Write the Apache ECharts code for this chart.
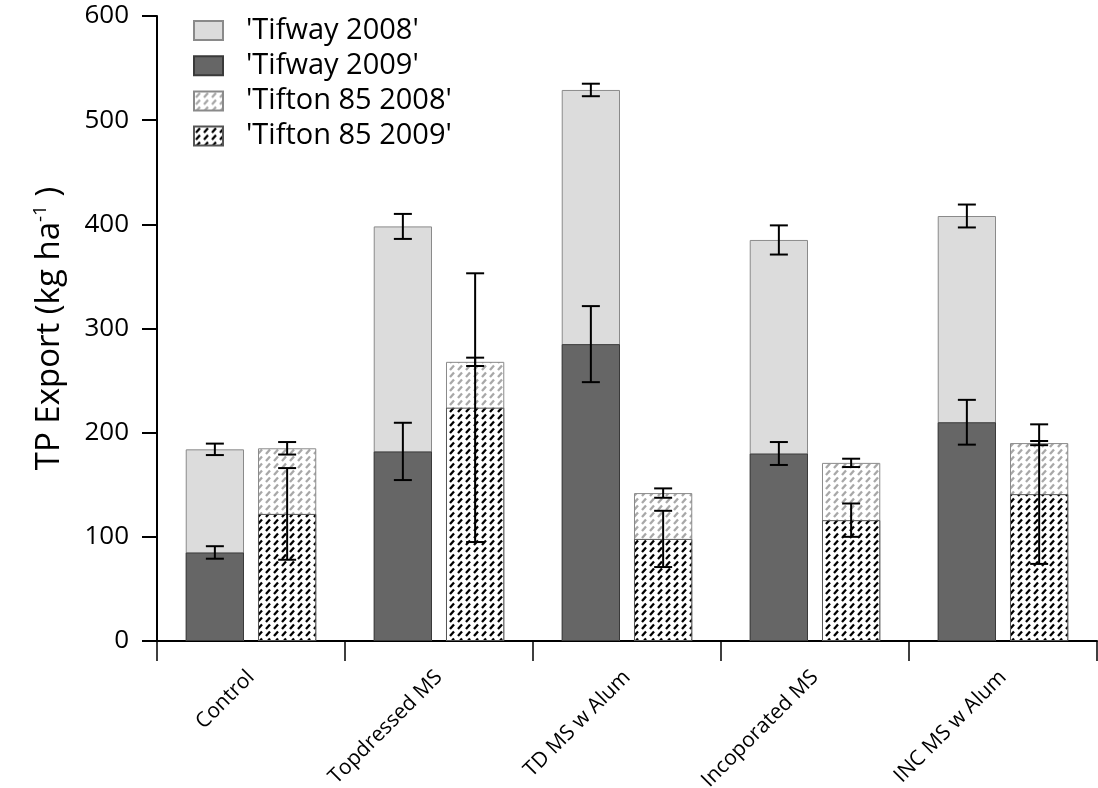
<!DOCTYPE html>
<html>
<head>
<meta charset="utf-8">
<script src="https://cdn.jsdelivr.net/npm/echarts@6/dist/echarts.min.js"></script>
<style>
  html, body { margin: 0; padding: 0; background: #fff; }
  #chart { width: 1098px; height: 788px; }
</style>
</head>
<body>
<div id="chart"></div>
<script>
// Treatments along the x axis
const categories = ['Control', 'Topdressed MS', 'TD MS w Alum', 'Incoporated MS', 'INC MS w Alum'];

// Bar heights (kg ha-1) and their error half-widths
const tifway2008 = [184, 398, 529, 385, 408];
const tifway2008Err = [5.5, 12, 6, 14, 11];
const tifway2009 = [85, 182, 285, 180, 210];
const tifway2009Err = [6, 27.5, 36.5, 11, 21.5];
const tifton2008 = [185, 268, 142, 171, 190];
const tifton2008Err = [6, 4, 4.5, 4, 2];
const tifton2009 = [122, 224, 98, 116, 141];
const tifton2009Err = [44, 129, 27, 16, 67];

// Y axis range and step
const yMin = 0, yMax = 600, yStep = 100;

const BAR_W = 0.31;   // bar width as fraction of the category band
const BAR_GAP = 0.24; // gap between the two bars, as fraction of bar width

// Diagonal-dash fill used for the Tifton 85 bars
function dashPattern(color) {
  const c = document.createElement('canvas');
  c.width = 8; c.height = 7;
  const ctx = c.getContext('2d');
  ctx.fillStyle = '#fff';
  ctx.fillRect(0, 0, 8, 7);
  ctx.strokeStyle = color;
  ctx.lineWidth = 2.3;
  ctx.lineCap = 'butt';
  ctx.beginPath();
  ctx.moveTo(2, 6);
  ctx.lineTo(6, 1.5);
  ctx.stroke();
  return { image: c, repeat: 'repeat' };
}

const names = ["'Tifway 2008'", "'Tifway 2009'", "'Tifton 85 2008'", "'Tifton 85 2009'"];

// Error bar items: [category index, value, half-width, side (-1 Tifway, +1 Tifton)]
const errItems = [];
categories.forEach((_, i) => {
  errItems.push([i, tifway2008[i], tifway2008Err[i], -1]);
  errItems.push([i, tifway2009[i], tifway2009Err[i], -1]);
  errItems.push([i, tifton2008[i], tifton2008Err[i], 1]);
  errItems.push([i, tifton2009[i], tifton2009Err[i], 1]);
});

const font = 'Open Sans';
const chart = echarts.init(document.getElementById('chart'), null, { renderer: 'canvas' });

const barCommon = {
  type: 'bar',
  barWidth: (BAR_W * 100) + '%',
  barGap: (BAR_GAP * 100) + '%',
  emphasis: { disabled: true }
};

chart.setOption({
  backgroundColor: '#fff',
  animation: false,
  grid: { left: 157, right: 1, top: 16, bottom: 147, containLabel: false, outerBoundsMode: 'none' },
  legend: {
    data: names,
    icon: 'rect',
    orient: 'vertical',
    left: 188,
    top: 11,
    itemWidth: 29,
    itemHeight: 19,
    itemGap: 6.2,
    textStyle: { fontFamily: font, fontSize: 29, color: '#000', padding: [0, 0, 0, 18] }
  },
  xAxis: [
    {
      type: 'category',
      data: categories,
      axisLine: { lineStyle: { color: '#000', width: 2 } },
      axisTick: { show: true, length: 20, lineStyle: { color: '#000', width: 1.5 } },
      axisLabel: { rotate: 45, margin: 33, fontFamily: font, fontSize: 21, color: '#000' }
    },
    { type: 'category', data: categories, show: false }
  ],
  yAxis: {
    type: 'value',
    min: yMin, max: yMax, interval: yStep,
    name: 'TP Export (kg ha{sup|-1} )',
    nameLocation: 'middle',
    nameRotate: 90,
    nameGap: 88,
    nameTextStyle: {
      fontFamily: font, fontSize: 33, color: '#000', lineHeight: 38,
      rich: { sup: { fontFamily: font, fontSize: 19, color: '#000', verticalAlign: 'top', lineHeight: 16 } }
    },
    splitLine: { show: false },
    axisLine: { show: true, lineStyle: { color: '#000', width: 2 } },
    axisTick: { show: true, length: 15, lineStyle: { color: '#000', width: 2 } },
    axisLabel: { margin: 28, fontFamily: font, fontSize: 26, color: '#000' }
  },
  series: [
    Object.assign({}, barCommon, {
      name: names[0], xAxisIndex: 0, data: tifway2008,
      itemStyle: { color: '#dcdcdc', borderColor: '#8a8a8a', borderWidth: 1 }
    }),
    Object.assign({}, barCommon, {
      name: names[2], xAxisIndex: 0, data: tifton2008,
      itemStyle: { color: dashPattern('#a8a8a8'), borderColor: '#8a8a8a', borderWidth: 1 }
    }),
    Object.assign({}, barCommon, {
      name: names[1], xAxisIndex: 1, data: tifway2009,
      itemStyle: { color: '#666666', borderColor: '#3a3a3a', borderWidth: 1 }
    }),
    Object.assign({}, barCommon, {
      name: names[3], xAxisIndex: 1, data: tifton2009,
      itemStyle: { color: dashPattern('#000000'), borderColor: '#555555', borderWidth: 1 }
    }),
    {
      type: 'custom',
      name: 'errors',
      xAxisIndex: 0,
      z: 10,
      silent: true,
      encode: { x: 0, y: 1 },
      data: errItems,
      renderItem: function (params, api) {
        const i = api.value(0), v = api.value(1), e = api.value(2), side = api.value(3);
        const band = api.size([1, 0])[0];
        const off = side * band * BAR_W * (1 + BAR_GAP) / 2;
        const hi = api.coord([i, v + e]);
        const lo = api.coord([i, v - e]);
        const x = hi[0] + off;
        const cap = 9;
        const st = { stroke: '#000', lineWidth: 2 };
        return {
          type: 'group',
          children: [
            { type: 'line', shape: { x1: x, y1: hi[1], x2: x, y2: lo[1] }, style: st },
            { type: 'line', shape: { x1: x - cap, y1: hi[1], x2: x + cap, y2: hi[1] }, style: st },
            { type: 'line', shape: { x1: x - cap, y1: lo[1], x2: x + cap, y2: lo[1] }, style: st }
          ]
        };
      }
    }
  ]
});
</script>
</body>
</html>
